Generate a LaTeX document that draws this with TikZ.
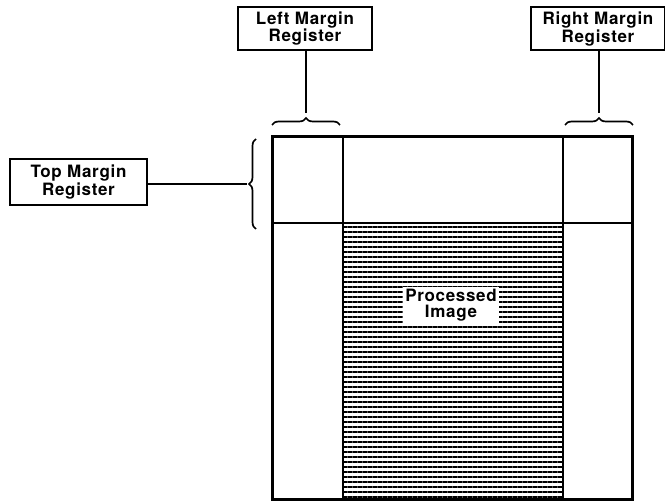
\documentclass[tikz,border=0pt]{standalone}
\usepackage{fontspec}
\setmainfont{TeX Gyre Heros}
\newfontfamily\regfont[LetterSpace=4]{TeX Gyre Heros}
\usetikzlibrary{patterns.meta, decorations.pathreplacing}

\begin{document}
\begin{tikzpicture}[
    x=1pt, y=-1pt,
    % Define register box style
    regbox/.style={draw, line width=2pt, minimum width=134pt, minimum height=43pt,
        inner sep=0pt, align=center, font=\regfont\fontsize{17}{16}\selectfont\bfseries},
    % Define brace and hatch styles
    margbrace/.style={decorate, decoration={brace, amplitude=7pt}, line width=1.7pt},
    hatch horiz/.style={pattern={Lines[angle=0, distance=5pt, line width=2.3pt]}},
    link/.style={line width=1.5pt}
]

\useasboundingbox (0,0) rectangle (665,502);

% Processed image area and margin lines
\fill[hatch horiz] (343,223) rectangle (563,500);
\draw[line width=1.7pt] (272,223) -- (632,223);
\draw[line width=2pt] (343,223) -- (563,223);
\draw[line width=1.7pt] (343,137) -- (343,500);
\draw[line width=1.7pt] (563,137) -- (563,500);
\draw[line width=3pt] (272,137) rectangle (632,500);
\node[fill=white, inner sep=2pt, align=center,
    font=\regfont\fontsize{17}{16}\selectfont\bfseries] (img) at (451,305) {Processed\\Image};

% Braces over the margins
\draw[margbrace] (272,125) -- (340,125);
\draw[margbrace] (565,125) -- (633,125);
\draw[margbrace] (256,229) -- (256,139);
\coordinate (ltip) at (306,113);
\coordinate (rtip) at (599,113);
\coordinate (ttip) at (247,184);

% Registers
\node[regbox] (lmr) at (305,28.5) {Left Margin\\Register};
\node[regbox] (rmr) at (598,29) {Right Margin\\Register};
\node[regbox, minimum width=137pt, minimum height=46pt] (tmr) at (78.5,182) {Top Margin\\Register};

\draw[link] (lmr.south -| ltip) -- (ltip);
\draw[link] (rmr.south -| rtip) -- (rtip);
\draw[link] (tmr.east |- ttip) -- (ttip);

\end{tikzpicture}
\end{document}
